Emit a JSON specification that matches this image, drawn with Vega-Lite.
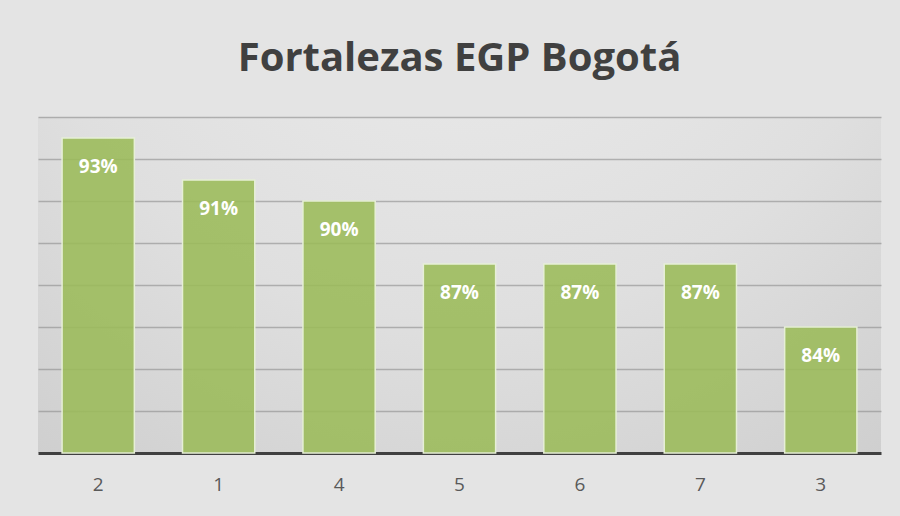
{
  "$schema": "https://vega.github.io/schema/vega-lite/v6.json",
  "autosize": {"type": "none"},
  "width": 843,
  "height": 336,
  "padding": {"left": 38, "top": 117, "right": 19, "bottom": 63},
  "background": "#e4e4e4",
  "title": {
    "text": "Fortalezas EGP Bogotá",
    "anchor": "middle",
    "baseline": "alphabetic",
    "offset": 6,
    "font": "Open Sans",
    "fontSize": 40,
    "fontWeight": "bold",
    "color": "#404040"
  },
  "data": {
    "values": [
      {"cat": "2", "value": 0.93},
      {"cat": "1", "value": 0.91},
      {"cat": "4", "value": 0.90},
      {"cat": "5", "value": 0.87},
      {"cat": "6", "value": 0.87},
      {"cat": "7", "value": 0.87},
      {"cat": "3", "value": 0.84}
    ]
  },
  "encoding": {
    "x": {
      "field": "cat",
      "type": "nominal",
      "sort": null,
      "scale": {"paddingInner": 0.4, "paddingOuter": 0.2},
      "axis": {
        "title": null,
        "labelAngle": 0,
        "labelFont": "Open Sans",
        "labelFontSize": 19,
        "labelColor": "#595959",
        "labelPadding": 22,
        "ticks": false,
        "domainColor": "#404040",
        "domainWidth": 3,
        "grid": false
      }
    },
    "y": {
      "field": "value",
      "type": "quantitative",
      "scale": {"domain": [0.78, 0.94], "zero": false, "nice": false},
      "axis": {
        "title": null,
        "labels": false,
        "ticks": false,
        "domain": false,
        "values": [0.8, 0.82, 0.84, 0.86, 0.88, 0.9, 0.92, 0.94],
        "gridColor": "#8c8c8c",
        "gridOpacity": 0.6,
        "gridWidth": 1.5
      }
    }
  },
  "layer": [
    {
      "mark": {"type": "bar", "fill": "#9bbb59", "fillOpacity": 0.88, "stroke": "#e6efd6", "strokeWidth": 1.5},
      "encoding": {"y2": {"datum": 0.78}}
    },
    {
      "mark": {"type": "text", "baseline": "middle", "dy": 29, "font": "Open Sans", "fontSize": 19, "fontWeight": "bold", "color": "#ffffff"},
      "encoding": {
        "text": {"field": "value", "type": "quantitative", "format": ".0%"}
      }
    }
  ],
  "config": {
    "view": {
      "stroke": null,
      "fill": {"gradient": "radial", "x1": 0.5, "y1": 0.0, "r1": 0, "x2": 0.5, "y2": 0.0, "r2": 0.9, "stops": [{"offset": 0, "color": "#eeeeee"}, {"offset": 0.6, "color": "#dfdfdf"}, {"offset": 1, "color": "#cdcdcd"}]}
    }
  }
}
